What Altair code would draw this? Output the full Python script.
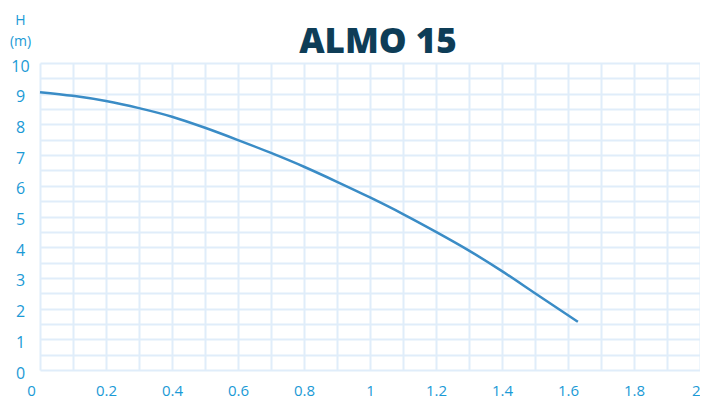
import altair as alt
import pandas as pd

flow = [0.0, 0.1, 0.2, 0.3, 0.4, 0.5, 0.6, 0.7, 0.8, 0.9, 1.0, 1.1, 1.2, 1.3, 1.4, 1.5, 1.63]
head = [9.05, 8.93, 8.76, 8.53, 8.25, 7.89, 7.49, 7.07, 6.62, 6.13, 5.62, 5.08, 4.50, 3.89, 3.22, 2.50, 1.57]

x_ticks = [round(i * 0.1, 1) for i in range(21)]
y_ticks = [round(i * 0.5, 1) for i in range(21)]

LABEL_BLUE = "#1b9ad6"
GRID = "#e0edfa"

df = pd.DataFrame({"Q": flow, "H": head})

chart = alt.Chart(df).mark_line(
    color="#3a8cc6", strokeWidth=2.5, interpolate="monotone"
).encode(
    x=alt.X(
        "Q:Q",
        scale=alt.Scale(domain=[0, 2], nice=False, zero=False),
        axis=alt.Axis(
            values=x_ticks,
            format="~g",
            labelExpr="round(datum.value*10) % 2 == 0 ? datum.label : ''",
            grid=True,
            gridColor=GRID,
            gridWidth=2,
            domain=False,
            ticks=False,
            tickSize=0,
            labelPadding=20,
            labelBaseline="middle",
            labelAlign={"condition": {"test": "datum.value == 2", "value": "right"}, "value": "center"},
            labelOffset={"condition": {"test": "datum.value == 0", "value": -9}, "value": 0},
            labelFont="Open Sans",
            labelFontSize=15,
            labelColor=LABEL_BLUE,
            labelOverlap=False,
            labelFlush=False,
            title=None,
        ),
    ),
    y=alt.Y(
        "H:Q",
        scale=alt.Scale(domain=[0, 10], nice=False, zero=False),
        axis=alt.Axis(
            values=y_ticks,
            format="~g",
            labelExpr="datum.value % 1 == 0 ? datum.label : ''",
            grid=True,
            gridColor=GRID,
            gridWidth=2,
            domain=False,
            ticks=False,
            tickSize=0,
            labelPadding=20,
            labelAlign="center",
            labelBaseline="middle",
            labelOffset=3,
            labelFont="Open Sans",
            labelFontSize=16,
            labelColor=LABEL_BLUE,
            labelOverlap=False,
            labelFlush=False,
            title=["H", "(m)"],
            titleAngle=0,
            titleX=-20,
            titleY=-39,
            titleAlign="center",
            titleBaseline="alphabetic",
            titleLineHeight=21,
            titleFont="Open Sans",
            titleFontSize=14,
            titleFontWeight="normal",
            titleColor=LABEL_BLUE,
        ),
    ),
).properties(
    width=660,
    height=307,
    title=alt.TitleParams(
        "ALMO 15",
        font="Open Sans",
        fontSize=35,
        fontWeight=800,
        color="#0e3d57",
        anchor="middle",
        baseline="alphabetic",
        offset=10,
        dx=8,
        dy=85,
    ),
    autosize=alt.AutoSizeParams(type="none"),
    padding={"left": 32, "top": 55, "right": 0, "bottom": 30},
).configure_view(stroke=None)

chart.save("out.html", embed_options={"renderer": "svg", "actions": False})
